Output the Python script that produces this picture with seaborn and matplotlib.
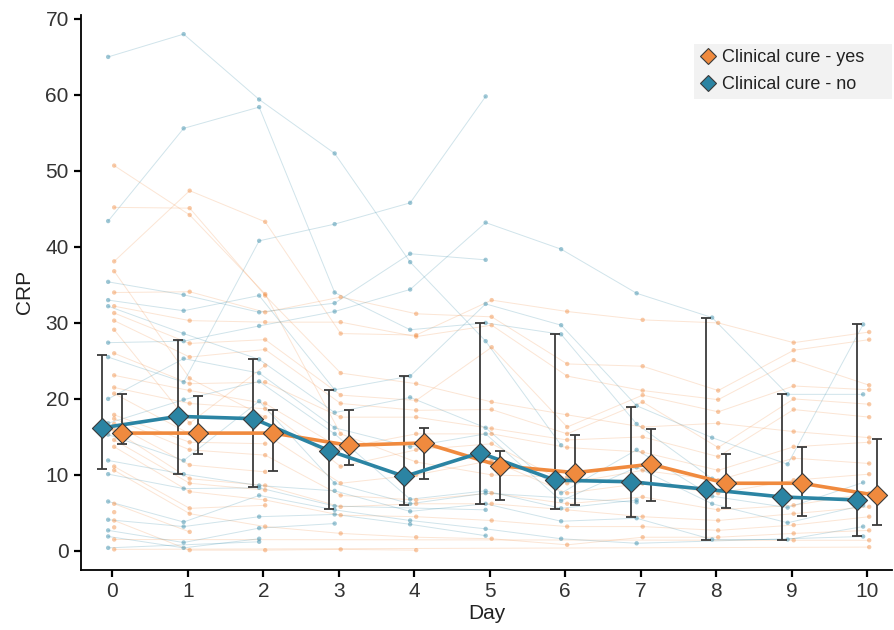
import matplotlib
matplotlib.use("Agg")
import matplotlib.pyplot as plt
from matplotlib.lines import Line2D
import seaborn as sns
import numpy as np
import pandas as pd

nan = np.nan
days = list(range(11))

# individual patients, CRP per day (nan = no measurement)
no_patients = [
    [65.0, 68.0, 59.4, 52.3, 38.0, 27.6, 13.9, nan, nan, nan, nan],
    [43.4, 55.6, 58.4, 34.0, 29.1, 30.0, 28.5, 16.7, 9.5, nan, nan],
    [25.5, 22.2, 40.8, 43.0, 45.8, 59.8, nan, nan, nan, nan, nan],
    [35.4, 33.7, 31.4, 32.6, 39.1, 38.3, nan, nan, nan, nan, nan],
    [27.4, 27.6, 29.6, 31.5, 34.4, 43.2, 39.7, 33.9, 30.7, 20.6, 20.6],
    [33.0, 31.6, 33.6, 21.2, 23.0, 32.5, 29.7, 19.1, 14.9, 11.4, 29.8],
    [32.2, 28.6, 25.2, 18.2, 20.2, 16.2, 7.6, 13.3, 7.2, 5.7, 9.0],
    [20.0, 25.3, 23.4, 16.2, 13.7, 15.4, 6.6, 11.0, 6.2, 3.7, 6.0],
    [16.8, 19.9, 22.3, 15.4, 6.8, 7.9, 5.6, 6.7, nan, nan, nan],
    [15.3, 11.9, 19.7, 8.9, 6.2, 7.6, nan, 6.4, nan, nan, nan],
    [11.9, 10.1, 8.6, 7.9, 5.2, 6.2, 3.9, 4.3, 1.5, 1.5, 3.2],
    [10.1, 8.2, 8.3, 5.9, nan, 5.4, nan, nan, nan, nan, nan],
    [6.5, 3.8, 7.3, 5.4, 4.0, 2.9, 1.6, 1.0, nan, nan, 1.9],
    [4.1, 3.2, 4.5, 4.8, 3.5, 2.0, nan, nan, nan, nan, nan],
    [2.7, 1.1, 3.0, 3.6, nan, nan, nan, nan, nan, nan, nan],
    [1.9, 0.4, 1.6, nan, nan, nan, nan, nan, nan, nan, nan],
    [0.4, nan, 1.2, nan, nan, nan, nan, nan, nan, nan, nan],
]

yes_patients = [
    [50.7, 44.2, 33.8, 15.4, 11.7, 10.0, 9.7, 8.9, nan, nan, nan],
    [45.2, 45.1, 33.6, 23.4, 22.0, 19.6, 17.9, 16.3, 16.8, 15.7, 14.9],
    [38.1, 47.4, 43.3, 28.6, 28.4, 33.0, 31.5, 30.4, 30.0, 27.4, 28.8],
    [36.8, 22.7, 17.6, nan, nan, nan, nan, nan, nan, nan, nan],
    [34.0, 34.1, 31.4, 33.4, 31.2, 30.8, 24.6, 24.3, 21.1, 26.4, 27.8],
    [32.2, 30.3, 30.1, 30.1, 28.2, 29.7, 23.0, 21.1, 19.9, 25.1, 21.8],
    [31.3, 27.3, 27.8, 20.5, 19.8, 26.8, 16.3, 20.5, 18.3, 21.7, 21.2],
    [30.3, 25.5, 26.5, 19.4, 18.5, 18.6, 15.4, 19.6, 13.6, 20.0, 19.3],
    [29.1, 16.8, 24.4, nan, nan, nan, nan, nan, nan, nan, nan],
    [26.0, 22.0, 22.2, 17.6, 17.6, 16.1, 14.6, 15.0, 12.4, 18.6, 17.6],
    [23.1, 21.1, 19.4, 13.5, 15.4, 15.4, 13.6, 13.0, 10.6, 13.7, 14.3],
    [21.5, 19.4, 18.7, 11.1, 13.3, 14.1, 8.9, 10.6, 9.3, 12.2, 11.5],
    [20.7, 15.4, 15.4, 8.9, 10.0, 11.9, 7.6, 8.9, 7.6, 9.3, 10.1],
    [17.9, 14.3, 14.1, nan, nan, nan, nan, nan, nan, nan, nan],
    [17.4, 13.3, 12.6, 7.3, 6.7, 7.6, 6.2, 7.1, 5.4, 6.0, 7.6],
    [16.7, 11.3, 10.4, nan, nan, nan, nan, nan, nan, nan, nan],
    [15.9, 9.5, 8.6, 5.8, 6.2, 6.2, 5.4, 4.5, 4.0, 4.9, 5.8],
    [14.6, 8.9, 8.0, nan, nan, nan, nan, nan, nan, nan, nan],
    [13.7, 7.8, 6.7, 4.7, 4.5, 4.0, 3.2, 3.2, 2.7, 3.4, 4.5],
    [11.1, 5.6, 6.0, nan, nan, nan, nan, nan, nan, nan, nan],
    [10.6, 4.9, 3.2, 2.3, 1.8, 1.6, 0.8, 1.8, 1.8, 2.3, 2.7],
    [6.2, 2.5, nan, nan, nan, nan, nan, nan, nan, nan, nan],
    [5.1, nan, nan, nan, nan, nan, nan, nan, nan, nan, nan],
    [4.0, 0.1, 0.1, 0.2, 0.1, nan, nan, nan, nan, nan, nan],
    [3.1, nan, nan, nan, nan, nan, nan, nan, nan, nan, nan],
    [1.5, nan, nan, nan, nan, nan, nan, nan, nan, 1.4, 1.4],
    [0.2, nan, nan, nan, nan, nan, nan, nan, nan, nan, 0.5],
]

# group summaries: centre and interval per day
no_mid = [16.2, 17.7, 17.4, 13.2, 9.8, 12.9, 9.3, 9.1, 8.1, 7.1, 6.7]
no_low = [10.8, 10.1, 8.4, 5.5, 6.1, 6.2, 5.5, 4.4, 1.5, 1.5, 1.9]
no_high = [25.8, 27.7, 25.2, 21.2, 23.0, 30.0, 28.5, 19.0, 30.7, 20.6, 29.9]

yes_mid = [15.5, 15.5, 15.5, 13.9, 14.2, 11.2, 10.3, 11.4, 8.9, 8.9, 7.3]
yes_low = [14.1, 12.7, 10.5, 11.3, 9.4, 6.7, 6.1, 6.6, 5.6, 4.6, 3.4]
yes_high = [20.6, 20.4, 18.6, 18.6, 16.2, 13.2, 15.3, 16.0, 12.7, 13.7, 14.7]

labels = ["Clinical cure - yes", "Clinical cure - no"]
c_yes = "#F08A3E"
c_no = "#2B84A3"


def long_frame(rows, shift):
    recs = []
    for pid, row in enumerate(rows):
        for d, v in zip(days, row):
            if not np.isnan(v):
                recs.append({"pid": pid, "x": d + shift, "CRP": v})
    return pd.DataFrame(recs)


sns.set_theme(style="ticks")
plt.rcParams["font.family"] = ["Liberation Sans", "DejaVu Sans"]

fig = plt.figure(figsize=(8.94, 6.3), dpi=100)
ax = fig.add_axes([0.091, 0.096, 0.907, 0.880])

# raw trajectories
for rows, col, shift in [(yes_patients, c_yes, 0.025), (no_patients, c_no, -0.055)]:
    df = long_frame(rows, shift)
    for pid, g in df.groupby("pid"):
        ax.plot(g["x"], g["CRP"], color=col, lw=0.7, alpha=0.22, zorder=1)
    sns.scatterplot(data=df, x="x", y="CRP", color=col, s=10, alpha=0.45,
                    edgecolor="none", ax=ax, zorder=2, legend=False)

# summaries
for mid, lo, hi, col, shift in [(yes_mid, yes_low, yes_high, c_yes, 0.13),
                                 (no_mid, no_low, no_high, c_no, -0.13)]:
    xs = np.array(days) + shift
    mid = np.array(mid)
    ax.errorbar(xs, mid, yerr=[mid - np.array(lo), np.array(hi) - mid], fmt="none",
                ecolor="#3a3a3a", elinewidth=1.3, capsize=3.5, capthick=1.3, zorder=3)
    sns.lineplot(x=xs, y=mid, color=col, lw=2.6, ax=ax, zorder=4, sort=False)
    ax.scatter(xs, mid, marker="D", s=105, color=col, edgecolor="#3a3a3a",
               linewidth=0.8, zorder=5)

ax.set_xlim(-0.41, 10.33)
ax.set_ylim(-2.45, 70.5)
ax.set_xticks(days)
ax.set_yticks(range(0, 71, 10))
ax.set_xlabel("Day", fontsize=15, color="#222222", labelpad=2)
ax.set_ylabel("CRP", fontsize=15, color="#222222", labelpad=8)
ax.tick_params(axis="both", labelsize=15, labelcolor="#333333", length=5,
               width=1.6, color="black", pad=4)
for s in ["left", "bottom"]:
    ax.spines[s].set_linewidth(1.3)
    ax.spines[s].set_color("black")
sns.despine(ax=ax)

handles = [Line2D([], [], marker="D", linestyle="none", markersize=8.5,
                  markerfacecolor=c, markeredgecolor="#3a3a3a", markeredgewidth=0.8)
           for c in [c_yes, c_no]]
leg = ax.legend(handles, labels, loc="upper left", bbox_to_anchor=(0.755, 0.948, 0.245, 0.0),
                mode="expand", fontsize=13, frameon=True, facecolor="#f2f2f2",
                edgecolor="none", framealpha=1, fancybox=False, handletextpad=0.3,
                borderpad=0.3, labelspacing=0.55, handlelength=1.0, borderaxespad=0.0)
for t in leg.get_texts():
    t.set_color("#222222")

fig.savefig("out.png", dpi=100)
